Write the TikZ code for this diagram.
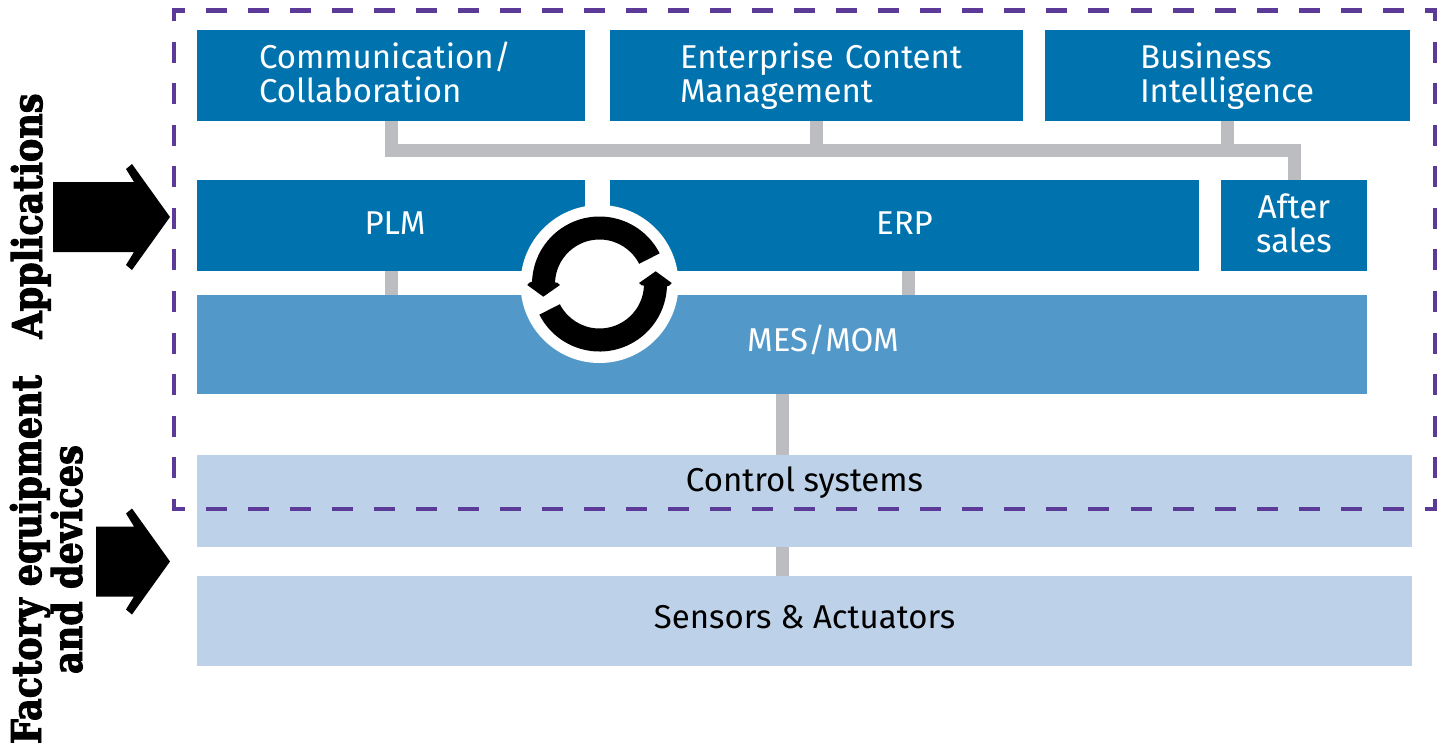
\documentclass[tikz,border=0pt]{standalone}
\usepackage{fontspec}
\setmainfont{Fira Sans}
\newfontfamily\slab[FakeStretch=0.855,BoldFeatures={FakeBold=2.4}]{DejaVu Serif}
\definecolor{dkblue}{HTML}{0072AE}
\definecolor{mdblue}{HTML}{5299C9}
\definecolor{ltblue}{HTML}{BDD1E9}
\definecolor{linkgrey}{HTML}{BBBDC0}
\definecolor{frame}{HTML}{5B3A98}
\newcommand{\ts}{\rule{0pt}{27.2pt}\rule[-7.3pt]{0pt}{7.3pt}}
\newcommand{\lift}[2]{\raisebox{#1}[0pt][0pt]{#2}}
\tikzset{
  boxbase/.style={anchor=north west,inner sep=0pt,outer sep=0pt,font=\fontsize{33}{34.5}\selectfont,align=left},
  dark/.style={boxbase,fill=dkblue,text=white},
  mid/.style={boxbase,fill=mdblue,text=white},
  light/.style={boxbase,fill=ltblue,text=black},
  link/.style={draw=linkgrey,line width=13pt},
  dashframe/.style={draw=frame,line width=4.3pt,line cap=rect},
  sidelabel/.style={rotate=90,anchor=base,inner sep=0pt,align=center,font=\fontsize{41}{41}\selectfont\slab\bfseries},
  pics/blockarrow/.style={code={
    \fill[black] (#1,-35) -- (-36,-35) -- (-44,-48) -- (-38,-53) -- (0,0) -- (-38,53) -- (-44,48) -- (-36,35) -- (#1,35) -- cycle;
  }},
  pics/turnarrow/.style={code={
    \fill[black] (27:67.5pt) arc[start angle=27,end angle=178,radius=67.5pt]
      -- (-70.2pt,1.3pt) -- (-72.2pt,-1pt) -- (-56.2pt,-12.7pt) -- (-39.5pt,-1pt) -- (-42.2pt,1.3pt)
      -- (178:44.5pt) arc[start angle=178,end angle=27,radius=44.5pt] -- cycle;
  }}
}
\begin{document}
\begin{tikzpicture}[x=1pt,y=-1pt]
\useasboundingbox (0,0) rectangle (1445,744);
% boxes
\node[dark,minimum width=388pt,minimum height=91pt,text width=388pt] (comm) at (197,30) {\ts\hspace*{62pt}Communication/\\\ts\hspace*{62pt}Collaboration};
\node[dark,minimum width=413pt,minimum height=91pt,text width=413pt] (ecm) at (610,30) {\ts\hspace*{70pt}Enterprise Content\\\ts\hspace*{70pt}Management};
\node[dark,minimum width=365pt,minimum height=91pt,text width=365pt] (bi) at (1045,30) {\ts\hspace*{95pt}Business\\\ts\hspace*{95pt}Intelligence};
\node[dark,minimum width=388pt,minimum height=91pt,align=center] (plm) at (197,180) {\hspace*{8pt}\lift{-8.7pt}{PLM}};
\node[dark,minimum width=589pt,minimum height=91pt,align=center] (erp) at (610,180) {\lift{-8.7pt}{ERP}};
\node[dark,minimum width=146pt,minimum height=91pt,align=center] (after) at (1221,180) {\ts After\\\ts sales};
\node[mid,minimum width=1170pt,minimum height=99pt,align=center] (mes) at (197,295) {\hspace*{82pt}\lift{-7.3pt}{MES/MOM}};
\node[light,minimum width=1215pt,minimum height=92pt,align=center] (ctrl) at (197,455) {\lift{9.3pt}{Control systems}};
\node[light,minimum width=1215pt,minimum height=90pt,align=center] (sens) at (197,576) {\lift{-7.3pt}{Sensors \& Actuators}};
% connectors
\coordinate (busY) at (0,150);
\draw[link] (comm.south) -- (comm.south |- busY) -- (after.north |- busY) -- (after.north);
\draw[link] (ecm.south) -- (ecm.south |- busY);
\draw[link] (bi.south) -- (bi.south |- busY);
\draw[link] (plm.south) -- (plm.south |- mes.north);
\draw[link] ([xshift=4pt]erp.south) -- ([xshift=4pt]erp.south |- mes.north);
\draw[link] (mes.south) -- (mes.south |- ctrl.north);
\draw[link] (mes.south |- ctrl.south) -- (mes.south |- sens.north);
% dashed frame
\coordinate (fTL) at (174.3,10.5);
\coordinate (fTR) at (1435.3,10.5);
\coordinate (fBL) at (174.3,509.3);
\coordinate (fBR) at (1435.3,509.3);
\begin{scope}[dash pattern=on 16.7pt off 25.33pt,dash phase=8.35pt]
  \draw[dashframe] (fTL) -- (fTR);
  \draw[dashframe] (fBL) -- (fBR);
\end{scope}
\begin{scope}[dash pattern=on 16.7pt off 24.87pt,dash phase=8.35pt]
  \draw[dashframe] (fTL) -- (fBL);
  \draw[dashframe] (fTR) -- (fBR);
\end{scope}
% cycle badge
\node[circle,fill=white,inner sep=0pt,minimum size=158pt] (cyc) at (599.5,284) {};
\begin{scope}[shift={(cyc.center)},x=1pt,y=1pt]
  \pic {turnarrow};
  \pic[rotate=180] {turnarrow};
\end{scope}
% side labels
\node[sidelabel] (apps) at (42,216) {Applications};
\node[sidelabel] (factory) at (82,559.5) {Factory equipment\\and devices};
\pic at (170,217) {blockarrow=-117};
\pic at (170,561.5) {blockarrow=-74};
\end{tikzpicture}
\end{document}
